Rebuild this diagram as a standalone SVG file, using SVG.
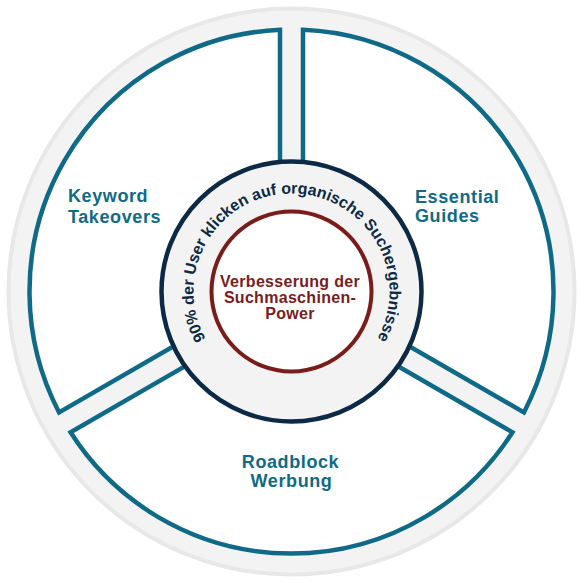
<svg xmlns="http://www.w3.org/2000/svg" xmlns:xlink="http://www.w3.org/1999/xlink" width="583" height="583" viewBox="0 0 583 583">
<style>
.sector{fill:#ffffff;stroke:#0f6a87;stroke-width:4.5;stroke-linejoin:miter}
.lbl{font-family:"Liberation Sans",Arial,sans-serif;font-weight:bold;font-size:18px;letter-spacing:0.6px;fill:#0f6a87}
.ctr{font-family:"Liberation Sans",Arial,sans-serif;font-weight:bold;font-size:16px;letter-spacing:0.3px;fill:#7a1c1c;text-anchor:middle}
.arc{font-family:"Liberation Sans",Arial,sans-serif;font-weight:bold;font-size:16px;fill:#0c2a45}
</style>
<defs>
<path id="ringPath" d="M 291.5,389.5 A 98 98 0 1 1 291.5,193.5 A 98 98 0 1 1 291.5,389.5"/>
</defs>
<rect width="583" height="583" fill="#ffffff"/>
<g id="outer-ring">
<circle cx="291.5" cy="291.5" r="283" fill="#f3f3f3" stroke="#e8e8e8" stroke-width="4"/>
</g>
<g id="keyword-takeovers">
<path class="sector" d="M 280,284.86 L 280,29.75 A 262 262 0 0 0 59.07,412.42 Z"/>
<text class="lbl" x="68" y="202"><tspan x="68">Keyword</tspan><tspan x="68" y="223">Takeovers</tspan></text>
</g>
<g id="essential-guides">
<path class="sector" d="M 303,284.86 L 303,29.75 A 262 262 0 0 1 523.93,412.42 Z"/>
<text class="lbl" x="415" y="202.5"><tspan x="415">Essential</tspan><tspan x="415" y="222">Guides</tspan></text>
</g>
<g id="roadblock-werbung">
<path class="sector" d="M 291.5,304.78 L 512.43,432.33 A 262 262 0 0 1 70.57,432.33 Z"/>
<text class="lbl" text-anchor="middle" x="290.5" y="468"><tspan x="290.5">Roadblock</tspan><tspan x="291.5" y="487">Werbung</tspan></text>
</g>
<g id="hub">
<circle cx="291.5" cy="291.5" r="130" fill="#f3f3f3" stroke="#0c2a45" stroke-width="4.5"/>
<text class="arc"><textPath xlink:href="#ringPath" href="#ringPath" startOffset="50%" text-anchor="middle">90% der User klicken auf organische Suchergebnisse</textPath></text>
</g>
<g id="core">
<circle cx="291.5" cy="291.5" r="80" fill="#ffffff" stroke="#7a1c1c" stroke-width="4"/>
<text class="ctr"><tspan x="290" y="287">Verbesserung der</tspan><tspan x="290" y="303">Suchmaschinen-</tspan><tspan x="290" y="319">Power</tspan></text>
</g>
<g id="connectors"></g>
</svg>
